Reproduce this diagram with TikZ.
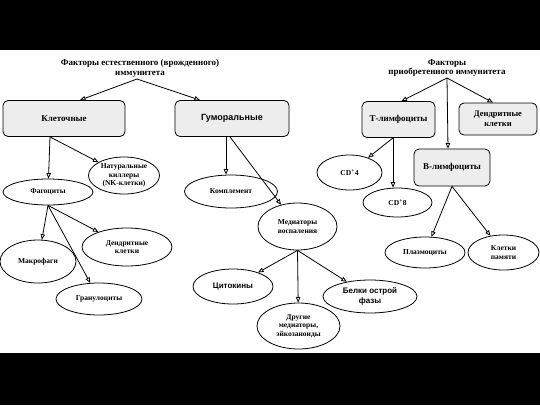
\documentclass[tikz,border=0pt]{standalone}
\usepackage{fontspec}
\setmainfont{Liberation Serif}
\setsansfont{Liberation Sans}
\usetikzlibrary{arrows.meta,shapes.geometric}
\begin{document}
\begin{tikzpicture}[x=1pt,y=-1pt,
  every node/.style={font=\bfseries},
  ttl/.style={align=center,font=\bfseries\fontsize{9}{9.5}\selectfont},
  rbox/.style={draw,rounded corners=5pt,fill=black!7,line width=0.8pt,minimum width=#1,minimum height=36pt,inner sep=0pt,align=center,font=\bfseries\fontsize{9}{11}\selectfont},
  ell/.style={draw,ellipse,line width=0.8pt,inner sep=0pt,align=center,font=\bfseries\fontsize{7.5}{8.5}\selectfont},
  sf/.style={font=\sffamily\bfseries\fontsize{8}{9.5}\selectfont},
  arr/.style={-{Triangle[open,length=5.5pt,width=4.5pt]},line width=0.8pt}]
\useasboundingbox (0,0) rectangle (540,405);
\fill[black] (0,0) rectangle (540,405);
\fill[white] (0,50) rectangle (540,353);
% titles
\node[ttl] (t1) at (140,68.5) {Факторы естественного (врожденного)\\иммунитета};
\node[ttl] (t2) at (447,68) {Факторы\\приобретенного иммунитета};
\coordinate (t1s) at (137,79);
\coordinate (t2s) at (447,78);
% boxes
\node[rbox=122pt] (kl) at (64,118.5) {Клеточные};
\node[rbox=114pt,sf,font=\sffamily\bfseries\fontsize{9}{11}\selectfont] (gum) at (232,118.5) {Гуморальные};
\node[rbox=73pt] (tl) at (398.5,119.5) {Т-лимфоциты};
\node[rbox=78pt,minimum height=32pt,font=\bfseries\fontsize{8.5}{10}\selectfont] (dk) at (498,119) {Дендритные\\клетки};
\node[rbox=76pt,minimum height=37pt] (bl) at (452,167.5) {В-лимфоциты};
% ellipses
\node[ell,minimum width=90pt,minimum height=26pt] (fag) at (48,192) {Фагоциты};
\node[ell,minimum width=71pt,minimum height=37pt] (nk) at (124,175.5) {Натуральные\\киллеры\\(NK-клетки)};
\node[ell,minimum width=93pt,minimum height=33pt] (kom) at (231,191.5) {Комплемент};
\node[ell,minimum width=79pt,minimum height=47pt] (med) at (297.5,226.5) {Медиаторы\\воспаления};
\node[ell,minimum width=90pt,minimum height=38pt] (dkf) at (127,247) {Дендритные\\клетки};
\node[ell,minimum width=76pt,minimum height=43pt] (mak) at (38,261.5) {Макрофаги};
\node[ell,minimum width=86pt,minimum height=32pt] (gra) at (99,299) {Гранулоциты};
\node[ell,sf,minimum width=80pt,minimum height=35pt] (cit) at (233,286.5) {Цитокины};
\node[ell,minimum width=83pt,minimum height=46pt] (dru) at (298.5,326) {Другие\\медиаторы,\\эйкозаноиды};
\node[ell,sf,minimum width=94pt,minimum height=33pt,align=center] (bel) at (370,296.5) {Белки острой\\фазы};
\node[ell,minimum width=65pt,minimum height=35pt] (cd4) at (349.5,172.5) {CD\textsuperscript{+}4};
\node[ell,minimum width=69pt,minimum height=29pt] (cd8) at (397.5,202.5) {CD\textsuperscript{+}8};
\node[ell,minimum width=80pt,minimum height=31pt] (pla) at (425,252.5) {Плазмоциты};
\node[ell,minimum width=71pt,minimum height=35pt] (pam) at (503.5,252.5) {Клетки\\памяти};
% start points
\coordinate (kls) at ([xshift=-14pt]kl.south);
\coordinate (gums1) at ([xshift=-6pt]gum.south);
\coordinate (gums2) at ([xshift=-2pt]gum.south);
\coordinate (fags) at (fag.south);
\coordinate (meds) at (med.south);
\coordinate (tls) at ([xshift=-5.5pt]tl.south);
\coordinate (bls) at (bl.south);
% arrows
\draw[arr] (t1s) -- ([xshift=16pt]kl.north);
\draw[arr] (t1s) -- ([xshift=-32pt]gum.north);
\draw[arr] (t2s) -- ([xshift=3pt]tl.north);
\draw[arr] (t2s) -- ([xshift=-4pt]bl.north);
\draw[arr] (t2s) -- ([xshift=-5pt]dk.north);
\draw[arr] (kls) -- (fag);
\draw[arr] (kls) -- (nk);
\draw[arr] (gums1) -- (gums1 |- kom.north);
\draw[arr] (gums2) -- (med);
\draw[arr] (fags) -- (mak);
\draw[arr] (fags) -- (gra);
\draw[arr] (fags) -- (dkf);
\draw[arr] (meds) -- (cit);
\draw[arr] (meds) -- (dru);
\draw[arr] (meds) -- (bel);
\draw[arr] (tls) -- (cd4);
\draw[arr] (tls) -- (tls |- cd8.north);
\draw[arr] (bls) -- (pla);
\draw[arr] (bls) -- (pam);
\end{tikzpicture}
\end{document}
